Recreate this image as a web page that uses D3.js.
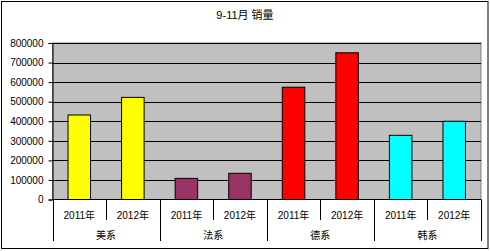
<!DOCTYPE html>
<html><head><meta charset="utf-8">
<script src="https://cdn.jsdelivr.net/npm/d3@7"></script>
<style>body{margin:0;background:#fff}</style>
</head><body>
<svg id="c" width="490" height="251"></svg>
<script>
const groups = ["美系","法系","德系","韩系"];
const years = ["2011年","2012年"];
const values = [432000, 522000, 108000, 134000, 574000, 750000, 328000, 400000];
const colors = ["#FFFF00","#993366","#FF0000","#00FFFF"];
const yTicks = [0,100000,200000,300000,400000,500000,600000,700000,800000];
const title = "9-11月 销量";

const svg = d3.select("#c");
const font = "Arial, 'Liberation Sans', 'Noto Sans CJK SC', sans-serif";
const L = 52.5, R = 481, T = 43, B = 199.5;

svg.append("rect").attr("x",1.5).attr("y",1.5).attr("width",486.5).attr("height",247)
  .attr("fill","#fff").attr("stroke","#000").attr("stroke-width",1);

svg.append("text").attr("x",245).attr("y",19).attr("text-anchor","middle")
  .attr("font-family",font).attr("font-size",11).text(title);

const cats = [];
groups.forEach((g,gi)=>years.forEach((yr,yi)=>cats.push({g,gi,yr,key:g+yr,v:values[gi*2+yi]})));

const x = d3.scaleBand().domain(cats.map(d=>d.key)).range([L,R]).paddingInner(0.58).paddingOuter(0.29);
const xc = d3.scaleBand().domain(cats.map(d=>d.key)).range([L,R]);
const y = d3.scaleLinear().domain([0,800000]).range([B,T]);

svg.append("rect").attr("x",L).attr("y",T).attr("width",R-L).attr("height",B-T)
  .attr("fill","#C0C0C0").attr("stroke","#808080");

svg.append("g").selectAll("line").data(yTicks.slice(1)).join("line")
  .attr("x1",L).attr("x2",R).attr("y1",d=>Math.round(y(d))+0.5).attr("y2",d=>Math.round(y(d))+0.5)
  .attr("stroke","#000");

const ya = svg.append("g").attr("transform",`translate(${L},0)`)
  .call(d3.axisLeft(y).tickValues(yTicks).tickSize(4).tickPadding(5).tickFormat(d3.format("d")));
ya.selectAll("text").attr("font-family",font).attr("font-size",10).attr("fill","#000");
ya.selectAll("line").attr("stroke","#000");
ya.select(".domain").attr("stroke","#000");

svg.append("g").selectAll("rect").data(cats).join("rect")
  .attr("x",d=>x(d.key)).attr("width",x.bandwidth())
  .attr("y",d=>y(d.v)).attr("height",d=>B-y(d.v))
  .attr("fill",d=>colors[d.gi]).attr("stroke","#000");

// x axis
const g = svg.append("g");
g.append("line").attr("x1",L).attr("x2",R).attr("y1",B).attr("y2",B).attr("stroke","#000");
cats.forEach((d,i)=>{
  g.append("text").attr("x",xc(d.key)+xc.bandwidth()/2).attr("y",219)
    .attr("text-anchor","middle").attr("font-family",font).attr("font-size",10).text(d.yr);
});
for(let i=0;i<=cats.length;i++){
  const xx = i<cats.length ? xc(cats[i].key) : R;
  const full = i%2===0;
  g.append("line").attr("x1",Math.round(xx)+0.5).attr("x2",Math.round(xx)+0.5)
    .attr("y1",B).attr("y2",full?241:220).attr("stroke","#000");
}
groups.forEach((gr,gi)=>{
  const x0 = xc(cats[gi*2].key);
  g.append("text").attr("x",x0+xc.bandwidth()).attr("y",239)
    .attr("text-anchor","middle").attr("font-family",font).attr("font-size",10).text(gr);
});
</script>
</body></html>
